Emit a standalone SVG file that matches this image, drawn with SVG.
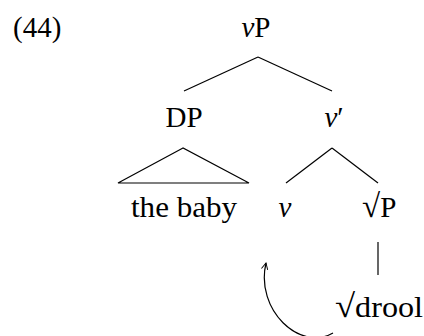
<svg xmlns="http://www.w3.org/2000/svg" width="424" height="336" viewBox="0 0 424 336">
<style>
text{font-family:"Liberation Serif","DejaVu Serif",serif;font-size:29px;fill:#000;text-anchor:middle}
.it{font-style:italic}
.rt{font-size:33px}
line,path{stroke:#000;stroke-width:1.2;fill:none}
</style>
<defs>
<marker id="ah" viewBox="0 0 10 10" refX="9" refY="5" markerWidth="8" markerHeight="8" markerUnits="userSpaceOnUse" orient="auto">
<path d="M1,1 L9,5 L1,9" style="stroke-width:1.2"/>
</marker>
</defs>
<rect width="424" height="336" fill="#fff"/>
<text x="13" y="37" style="text-anchor:start">(44)</text>
<g id="vP"><text x="256" y="37"><tspan class="it">v</tspan>P</text></g>
<g id="DP"><text x="184" y="127">DP</text></g>
<g id="vbar"><text x="334" y="127"><tspan class="it">v</tspan>′</text></g>
<g id="thebaby"><text x="131" y="217" style="text-anchor:start" textLength="106" lengthAdjust="spacingAndGlyphs">the baby</text></g>
<g id="v"><text x="285" y="217" class="it">v</text></g>
<g id="rootP"><text x="362" y="217" style="text-anchor:start"><tspan class="rt">√</tspan>P</text></g>
<g id="drool"><text x="335" y="317" style="text-anchor:start" textLength="88" lengthAdjust="spacingAndGlyphs"><tspan class="rt">√</tspan>drool</text></g>
<g id="connectors">
<line x1="258" y1="57" x2="184" y2="91"/>
<line x1="258" y1="57" x2="332" y2="91"/>
<path d="M183 148 L118 183 L249 183 Z"/>
<line x1="332" y1="148" x2="286" y2="183"/>
<line x1="332" y1="148" x2="378" y2="183"/>
<line x1="378" y1="242" x2="378" y2="275"/>
<path d="M333 333 C300 352, 255 310, 266 263" marker-end="url(#ah)"/>
</g>
</svg>
